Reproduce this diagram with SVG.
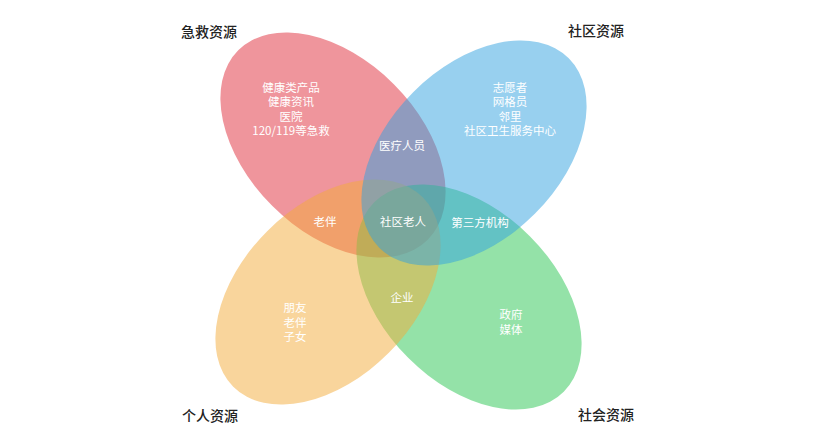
<svg xmlns="http://www.w3.org/2000/svg" width="813" height="441" viewBox="0 0 813 441">
  <style>
    .set { fill-opacity: 0.5; }
    .lbl { font-family: "Noto Sans CJK SC", "Noto Sans", sans-serif; font-size: 11.5px; fill: #ffffff; text-anchor: middle; }
    .title { font-family: "Noto Sans CJK SC", "Noto Sans", sans-serif; font-size: 14px; fill: #222222; font-weight: 500; }
  </style>
  <rect width="813" height="441" fill="#ffffff"/>
  <g id="set-emergency">
    <ellipse class="set" cx="333" cy="145" rx="134" ry="86" fill="#df2b39" transform="rotate(45 333 145)"/>
  </g>
  <g id="set-social">
    <ellipse class="set" cx="469" cy="297" rx="134" ry="86" fill="#29c551" transform="rotate(45 469 297)"/>
  </g>
  <g id="set-personal">
    <ellipse class="set" cx="328" cy="292" rx="134" ry="86" fill="#f3ab39" transform="rotate(-45 328 292)"/>
  </g>
  <g id="set-community">
    <ellipse class="set" cx="474" cy="153" rx="134" ry="86" fill="#31a1df" transform="rotate(-45 474 153)"/>
  </g>
  <g id="labels-emergency">
    <text class="lbl" x="291" y="91.5">健康类产品</text>
    <text class="lbl" x="291" y="106">健康资讯</text>
    <text class="lbl" x="291" y="120.5">医院</text>
    <text class="lbl" x="291" y="135">120/119等急救</text>
  </g>
  <g id="labels-community">
    <text class="lbl" x="510" y="91.5">志愿者</text>
    <text class="lbl" x="510" y="106">网格员</text>
    <text class="lbl" x="510" y="120.5">邻里</text>
    <text class="lbl" x="510" y="135">社区卫生服务中心</text>
  </g>
  <g id="labels-personal">
    <text class="lbl" x="295" y="312">朋友</text>
    <text class="lbl" x="295" y="326.5">老伴</text>
    <text class="lbl" x="295" y="341">子女</text>
  </g>
  <g id="labels-social">
    <text class="lbl" x="511" y="319">政府</text>
    <text class="lbl" x="511" y="333.5">媒体</text>
  </g>
  <g id="overlap-medical"><text class="lbl" x="402" y="150">医疗人员</text></g>
  <g id="overlap-partner"><text class="lbl" x="325" y="226">老伴</text></g>
  <g id="overlap-elderly"><text class="lbl" x="403" y="226">社区老人</text></g>
  <g id="overlap-thirdparty"><text class="lbl" x="480" y="227">第三方机构</text></g>
  <g id="overlap-enterprise"><text class="lbl" x="402" y="302">企业</text></g>
  <g id="connectors"></g>
  <g id="titles">
    <text class="title" x="181" y="37">急救资源</text>
    <text class="title" x="568" y="36">社区资源</text>
    <text class="title" x="182" y="421">个人资源</text>
    <text class="title" x="578" y="420">社会资源</text>
  </g>
</svg>
